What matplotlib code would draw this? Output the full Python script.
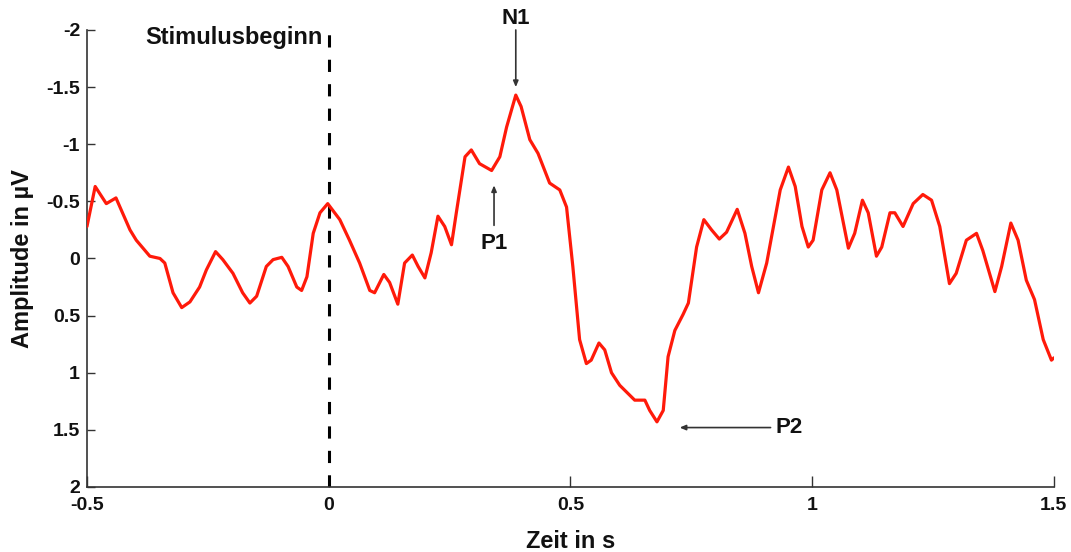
import matplotlib
matplotlib.use("Agg")
import matplotlib.pyplot as plt
import numpy as np

plt.rcParams['font.family'] = ['Liberation Sans', 'DejaVu Sans']

time_s = [-0.50, -0.483, -0.46, -0.44, -0.411, -0.398, -0.37, -0.349, -0.339, -0.322,
          -0.304, -0.287, -0.267, -0.253, -0.234, -0.219, -0.198, -0.178, -0.163, -0.149,
          -0.129, -0.115, -0.097, -0.084, -0.066, -0.056, -0.045, -0.032, -0.018, -0.002,
          0.023, 0.043, 0.064, 0.085, 0.095, 0.114, 0.126, 0.143, 0.157, 0.173,
          0.185, 0.199, 0.212, 0.226, 0.240, 0.254, 0.264, 0.282, 0.295, 0.312,
          0.337, 0.354, 0.368, 0.387, 0.398, 0.416, 0.433, 0.457, 0.478, 0.492,
          0.505, 0.519, 0.533, 0.543, 0.559, 0.571, 0.585, 0.602, 0.633, 0.654,
          0.664, 0.679, 0.692, 0.702, 0.716, 0.733, 0.744, 0.761, 0.776, 0.792,
          0.808, 0.823, 0.845, 0.861, 0.875, 0.889, 0.906, 0.934, 0.951, 0.965,
          0.979, 0.992, 1.002, 1.020, 1.037, 1.051, 1.075, 1.088, 1.104, 1.116,
          1.133, 1.144, 1.161, 1.171, 1.188, 1.209, 1.229, 1.247, 1.264, 1.284,
          1.298, 1.319, 1.340, 1.353, 1.378, 1.392, 1.411, 1.426, 1.443, 1.460,
          1.478, 1.495, 1.500]
amplitude_uv = [-0.28, -0.63, -0.48, -0.53, -0.25, -0.16, -0.02, 0.00, 0.04, 0.30,
                0.43, 0.38, 0.25, 0.10, -0.06, 0.01, 0.13, 0.30, 0.39, 0.33,
                0.07, 0.01, -0.01, 0.07, 0.25, 0.28, 0.16, -0.22, -0.40, -0.48,
                -0.34, -0.16, 0.04, 0.28, 0.30, 0.14, 0.21, 0.40, 0.04, -0.03,
                0.07, 0.17, -0.05, -0.37, -0.28, -0.12, -0.40, -0.89, -0.95, -0.83,
                -0.77, -0.89, -1.15, -1.43, -1.33, -1.04, -0.92, -0.66, -0.60, -0.45,
                0.07, 0.71, 0.92, 0.89, 0.74, 0.80, 1.00, 1.11, 1.24, 1.24,
                1.33, 1.43, 1.33, 0.86, 0.63, 0.49, 0.39, -0.10, -0.34, -0.25,
                -0.17, -0.23, -0.43, -0.22, 0.07, 0.30, 0.04, -0.60, -0.80, -0.63,
                -0.28, -0.10, -0.16, -0.60, -0.75, -0.60, -0.09, -0.22, -0.51, -0.40,
                -0.02, -0.10, -0.40, -0.40, -0.28, -0.48, -0.56, -0.51, -0.28, 0.22,
                0.13, -0.16, -0.22, -0.07, 0.29, 0.07, -0.31, -0.16, 0.19, 0.36,
                0.71, 0.89, 0.87]

x_ticks = [-0.5, 0, 0.5, 1, 1.5]
x_ticklabels = ['-0.5', '0', '0.5', '1', '1.5']
y_ticks = [-2, -1.5, -1, -0.5, 0, 0.5, 1, 1.5, 2]
y_ticklabels = ['-2', '-1.5', '-1', '-0.5', '0', '0.5', '1', '1.5', '2']

t = np.array(time_s)
a = np.array(amplitude_uv)

fig = plt.figure(figsize=(10.71, 5.52), dpi=100)
ax = fig.add_axes([0.0812, 0.1178, 0.9028, 0.8279])

ax.plot(t, a, color='#ff1a0a', lw=2.3, solid_joinstyle='round', solid_capstyle='round', zorder=3)
ax.axvline(0, color='black', lw=2.2, ls=(0, (4.0, 4.0)), zorder=2)

ax.set_xlim(-0.5, 1.5)
ax.set_ylim(2, -2)
ax.set_xticks(x_ticks)
ax.set_xticklabels(x_ticklabels)
ax.set_yticks(y_ticks)
ax.set_yticklabels(y_ticklabels)
for s in ['top', 'right']:
    ax.spines[s].set_visible(False)
for s in ['left', 'bottom']:
    ax.spines[s].set_color('#333333')
    ax.spines[s].set_linewidth(1.2)
ax.tick_params(direction='in', width=1.0, color='#333333', labelsize=14)
ax.tick_params(axis='x', length=8, pad=7)
ax.tick_params(axis='y', length=6, pad=5)
for lab in ax.get_xticklabels() + ax.get_yticklabels():
    lab.set_fontweight('bold')
    lab.set_color('#111111')

ax.set_xlabel('Zeit in s', fontsize=17, fontweight='bold', color='#111111')
ax.xaxis.set_label_coords(0.5, -0.094)
ax.set_ylabel('Amplitude in µV', fontsize=17, fontweight='bold', color='#111111')
ax.yaxis.set_label_coords(-0.055, 0.5)

ax.text(-0.012, -1.93, 'Stimulusbeginn', ha='right', va='center',
        fontsize=17, fontweight='bold', color='#111111')

# annotations anchored to data peaks
i_n1 = int(np.argmin(a))
mask_p2 = (t > 0.5) & (t < 0.8)
i_p2 = int(np.where(mask_p2)[0][np.argmax(a[mask_p2])])
mask_p1 = (t > 0.3) & (t < 0.36)
i_p1 = int(np.where(mask_p1)[0][np.argmax(a[mask_p1])])

arrow = dict(arrowstyle='-|>,head_length=0.35,head_width=0.15', color='#333333', lw=1.2,
             shrinkA=0, shrinkB=0)
ax.annotate('', xy=(t[i_n1], a[i_n1] - 0.07), xytext=(t[i_n1], -2.0),
            arrowprops=arrow, annotation_clip=False)
ax.text(t[i_n1], -2.1, 'N1', ha='center', va='center', fontsize=16,
        fontweight='bold', color='#111111', clip_on=False)

ax.annotate('', xy=(t[i_p1] + 0.005, a[i_p1] + 0.13), xytext=(t[i_p1] + 0.005, -0.29),
            arrowprops=arrow)
ax.text(t[i_p1] + 0.005, -0.13, 'P1', ha='center', va='center', fontsize=16,
        fontweight='bold', color='#111111')

ax.annotate('', xy=(t[i_p2] + 0.047, a[i_p2] + 0.05), xytext=(t[i_p2] + 0.235, a[i_p2] + 0.05),
            arrowprops=arrow)
ax.text(t[i_p2] + 0.245, a[i_p2] + 0.05, 'P2', ha='left', va='center', fontsize=16,
        fontweight='bold', color='#111111')

fig.savefig('out.png', dpi=100, facecolor='white')
